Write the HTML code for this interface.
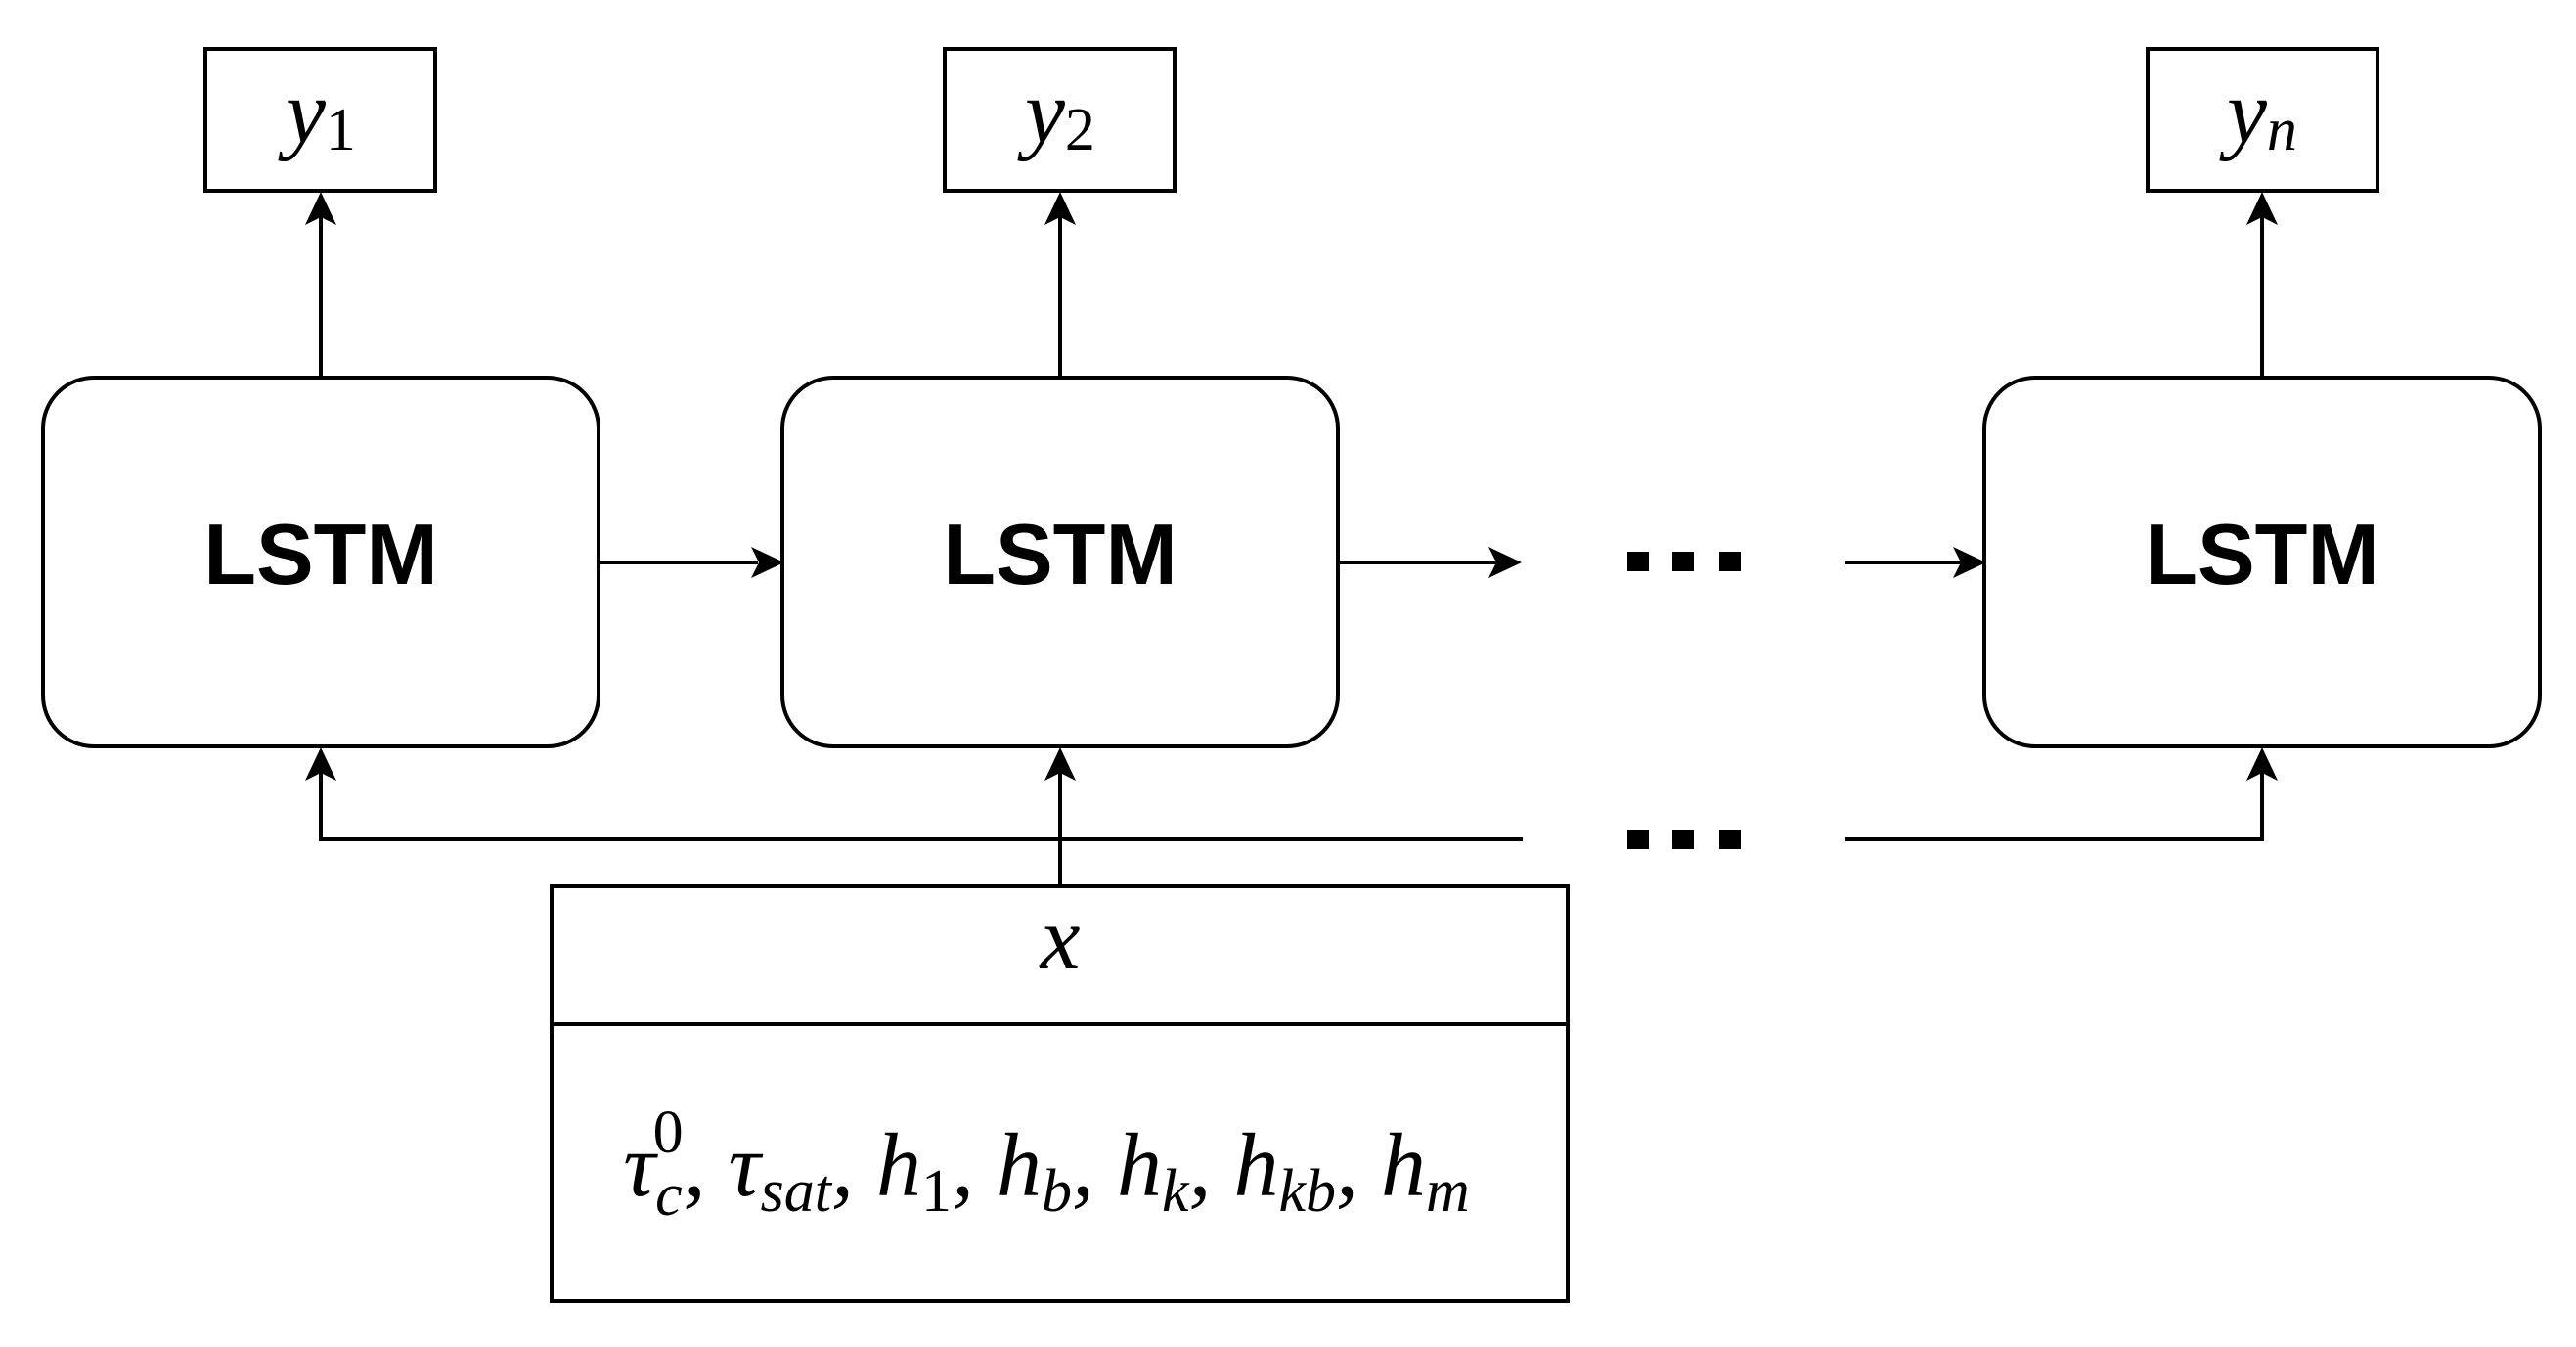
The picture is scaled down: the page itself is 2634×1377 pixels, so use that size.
<!DOCTYPE html>
<html><head><meta charset="utf-8"><style>
html,body{margin:0;padding:0;background:#fff;}
svg{display:block;}
</style></head><body>
<svg width="2634" height="1377" viewBox="0 0 2634 1377" xmlns="http://www.w3.org/2000/svg">
<g fill="none" stroke="#000" stroke-width="4">
<rect x="210" y="50" width="235" height="145"/>
<rect x="966" y="50" width="235" height="145"/>
<rect x="2196" y="50" width="235" height="145"/>
<rect x="44" y="386" width="568" height="377" rx="52"/>
<rect x="800" y="386" width="568" height="377" rx="52"/>
<rect x="2029" y="386" width="568" height="377" rx="52"/>
<rect x="564" y="906" width="1039" height="424"/>
<line x1="564" y1="1047" x2="1603" y2="1047"/>
<line x1="328" y1="386" x2="328" y2="220"/>
<line x1="1084" y1="386" x2="1084" y2="220"/>
<line x1="2313" y1="386" x2="2313" y2="220"/>
<line x1="612" y1="575" x2="775" y2="575"/>
<line x1="1368" y1="575" x2="1530" y2="575"/>
<line x1="1887" y1="575" x2="2005" y2="575"/>
<line x1="1084" y1="906" x2="1084" y2="790"/>
<polyline points="328,790 328,858 1557,858"/>
<polyline points="1887,858 2313,858 2313,790"/>
</g>
<g fill="#000">
<polygon points="328,196 312,230 328,222 344,230"/>
<polygon points="1084,196 1068,230 1084,222 1100,230"/>
<polygon points="2313,196 2297,230 2313,222 2329,230"/>
<polygon points="802,575 768,559 776,575 768,591"/>
<polygon points="1556,575 1522,559 1530,575 1522,591"/>
<polygon points="2031,575 1997,559 2005,575 1997,591"/>
<polygon points="328,764 312,798 328,790 344,798"/>
<polygon points="1084,764 1068,798 1084,790 1100,798"/>
<polygon points="2313,764 2297,798 2313,790 2329,798"/>
<rect x="1664" y="564" width="22" height="20"/><rect x="1710" y="564" width="22" height="20"/><rect x="1758" y="564" width="22" height="20"/>
<rect x="1664" y="848" width="22" height="20"/><rect x="1710" y="848" width="22" height="20"/><rect x="1758" y="848" width="22" height="20"/>
</g>
<g font-family="Liberation Sans, sans-serif" font-weight="bold" font-size="88" text-anchor="middle">
<text x="328" y="597">LSTM</text>
<text x="1084" y="597">LSTM</text>
<text x="2313" y="597">LSTM</text>
</g>
<g font-family="Liberation Serif, serif" font-style="italic" font-size="92" text-anchor="middle">
<text x="328" y="145">y<tspan font-style="normal" font-size="62" dy="8">1</tspan></text>
<text x="1084" y="145">y<tspan font-style="normal" font-size="62" dy="8">2</tspan></text>
<text x="2313" y="145">y<tspan font-size="62" dy="8">n</tspan></text>
<text x="1084" y="990">x</text>
</g>
<text x="1070" y="1222" font-family="Liberation Serif, serif" font-style="italic" font-size="92" text-anchor="middle">τ<tspan font-size="62" dy="20">c</tspan><tspan font-size="62" font-style="normal" dx="-30" dy="-64">0</tspan><tspan dy="44">, τ</tspan><tspan font-size="62" dy="16">sat</tspan><tspan dy="-16">, h</tspan><tspan font-size="62" font-style="normal" dy="16">1</tspan><tspan dy="-16">, h</tspan><tspan font-size="62" dy="16">b</tspan><tspan dy="-16">, h</tspan><tspan font-size="62" dy="16">k</tspan><tspan dy="-16">, h</tspan><tspan font-size="62" dy="16">kb</tspan><tspan dy="-16">, h</tspan><tspan font-size="62" dy="16">m</tspan></text>
</svg>
</body></html>
